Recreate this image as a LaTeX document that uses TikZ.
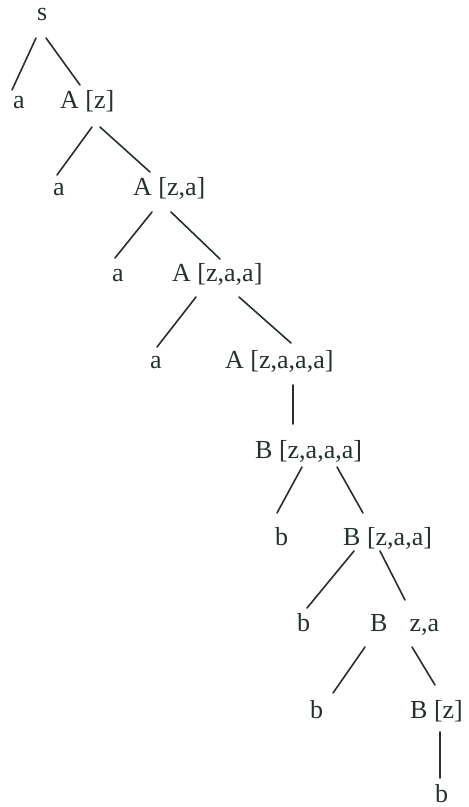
\documentclass[tikz,border=0pt]{standalone}
\usepackage{fontspec}
\setmainfont{Liberation Serif}
\usepackage{tikz}
\definecolor{tink}{HTML}{263030}
\tikzset{
  sym/.style   ={anchor=base west, inner sep=0pt, text=tink,
                 font=\fontsize{26}{30}\selectfont},
  branch/.style={draw=tink, line width=1.6pt, line cap=round},
}

\begin{document}
\begin{tikzpicture}[x=1pt, y=-1pt]
  \useasboundingbox (0,0) rectangle (469,807);
  % spine of the derivation
  \node[sym] (s)  at (37,20)   {s};
  \node[sym] (a1) at (13,108)  {a};
  \node[sym] (A1) at (60,108)  {A [z]};
  \node[sym] (a2) at (53,195)  {a};
  \node[sym] (A2) at (133,195) {A [z,a]};
  \node[sym] (a3) at (112,281) {a};
  \node[sym] (A3) at (172,281) {A [z,a,a]};
  \node[sym] (a4) at (150,368) {a};
  \node[sym] (A4) at (225,368) {A [z,a,a,a]};
  \node[sym] (B1) at (255,458) {B [z,a,a,a]};
  \node[sym] (b1) at (275,545) {b};
  \node[sym] (B2) at (343,545) {B [z,a,a]};
  \node[sym] (b2) at (297,631) {b};
  \node[sym] (B3) at (370,631) {B\hspace{22pt}z,a};
  \node[sym] (b3) at (310,718) {b};
  \node[sym] (B4) at (410,718) {B [z]};
  \node[sym] (b4) at (435,802) {b};

  \draw[branch] ([shift={(-1,18)}]s.base west)  -- ([shift={(-1,-18)}]a1.base west);
  \draw[branch] ([shift={(9,18)}]s.base west)   -- ([shift={(20,-23)}]A1.base west);
  \draw[branch] ([shift={(32,19)}]A1.base west) -- ([shift={(4,-20)}]a2.base west);
  \draw[branch] ([shift={(40,19)}]A1.base west) -- ([shift={(17,-23)}]A2.base west);
  \draw[branch] ([shift={(19,17)}]A2.base west) -- ([shift={(3,-23)}]a3.base west);
  \draw[branch] ([shift={(38,17)}]A2.base west) -- ([shift={(48,-22)}]A3.base west);
  \draw[branch] ([shift={(24,16)}]A3.base west) -- ([shift={(7,-21)}]a4.base west);
  \draw[branch] ([shift={(67,16)}]A3.base west) -- ([shift={(66,-25)}]A4.base west);
  \draw[branch] ([shift={(68,17)}]A4.base west) -- ([shift={(38,-34)}]B1.base west);
  \draw[branch] ([shift={(47,9)}]B1.base west)  -- ([shift={(2,-32)}]b1.base west);
  \draw[branch] ([shift={(82,9)}]B1.base west)  -- ([shift={(20,-32)}]B2.base west);
  \draw[branch] ([shift={(11,6)}]B2.base west)  -- ([shift={(10,-23)}]b2.base west);
  \draw[branch] ([shift={(37,6)}]B2.base west)  -- ([shift={(35,-31)}]B3.base west);
  \draw[branch] ([shift={(-5,16)}]B3.base west) -- ([shift={(23,-25)}]b3.base west);
  \draw[branch] ([shift={(42,16)}]B3.base west) -- ([shift={(25,-33)}]B4.base west);
  \draw[branch] ([shift={(30,14)}]B4.base west) -- ([shift={(5,-24)}]b4.base west);
\end{tikzpicture}
\end{document}
